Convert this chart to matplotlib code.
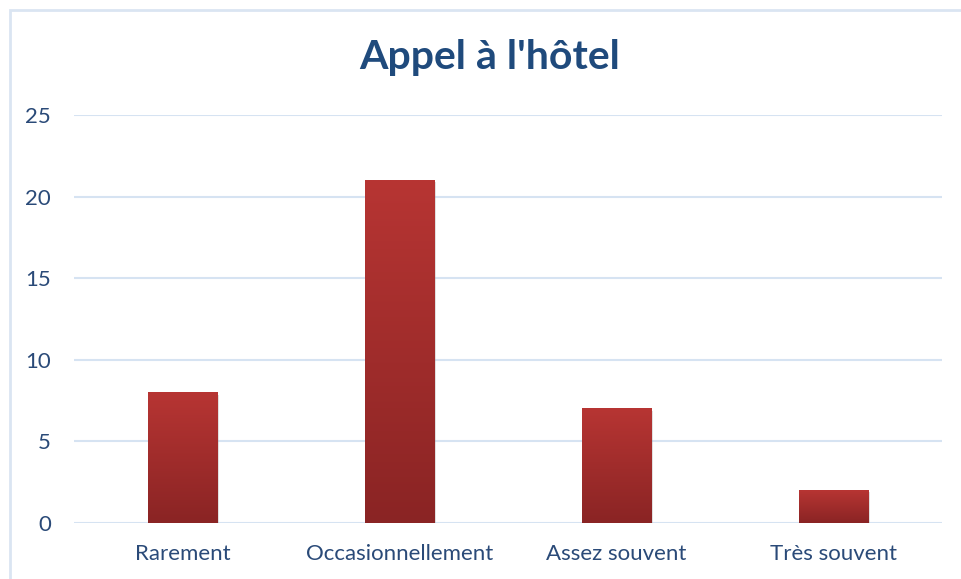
import matplotlib
matplotlib.use("Agg")
import matplotlib.pyplot as plt
import numpy as np
from matplotlib.patches import Rectangle
import matplotlib.patheffects as pe
from matplotlib.colors import LinearSegmentedColormap

categories = ["Rarement", "Occasionnellement", "Assez souvent", "Très souvent"]
values = [8, 21, 7, 2]
yticks = [0, 5, 10, 15, 20, 25]
title = "Appel à l'hôtel"

plt.rcParams['font.family'] = ['Lato', 'DejaVu Sans']

fig = plt.figure(figsize=(9.62, 5.79), dpi=100)
fig.patch.set_facecolor("white")
# outer border
fig.patches.append(Rectangle((10/962, -0.05), 1.2, 1 - 10/579 + 0.05, transform=fig.transFigure,
                             fill=False, edgecolor="#DAE5F2", linewidth=2, zorder=0))

ax = fig.add_axes([74/962, 56/579, 868/962, 408/579])
ax.set_facecolor("none")
x = np.arange(len(categories))
bars = ax.bar(x, values, width=0.318, color="#A52E2C", zorder=3,
              path_effects=[pe.SimplePatchShadow(offset=(1.5, -1.5), shadow_rgbFace="#999999", alpha=0.3), pe.Normal()])

cmap = LinearSegmentedColormap.from_list("g", ["#8A2424", "#B73533"])
grad = np.linspace(0, 1, 256).reshape(-1, 1)
for b in bars:
    x0, w, h = b.get_x(), b.get_width(), b.get_height()
    ax.imshow(grad, extent=(x0, x0 + w, 0, h), origin="lower", aspect="auto", cmap=cmap, zorder=4)

ax.set_xlim(-0.5, len(categories) - 0.5)
ax.set_ylim(0, 25)
ax.set_yticks(yticks)
ax.set_xticks(x)
ax.set_xticklabels(categories)
ax.grid(axis="y", color="#D6E3F2", linewidth=1.5, zorder=0)
ax.tick_params(axis="both", length=0, labelsize=16, colors="#2A4A78")
ax.tick_params(axis="y", pad=16.5)
ax.tick_params(axis="x", pad=15)
for s in ax.spines.values():
    s.set_visible(False)

fig.text(490/962, 1 - 57/579, title, ha="center", va="center", fontsize=29.5, fontweight="bold", color="#1F4A7C")

fig.savefig("out.png", dpi=100)
